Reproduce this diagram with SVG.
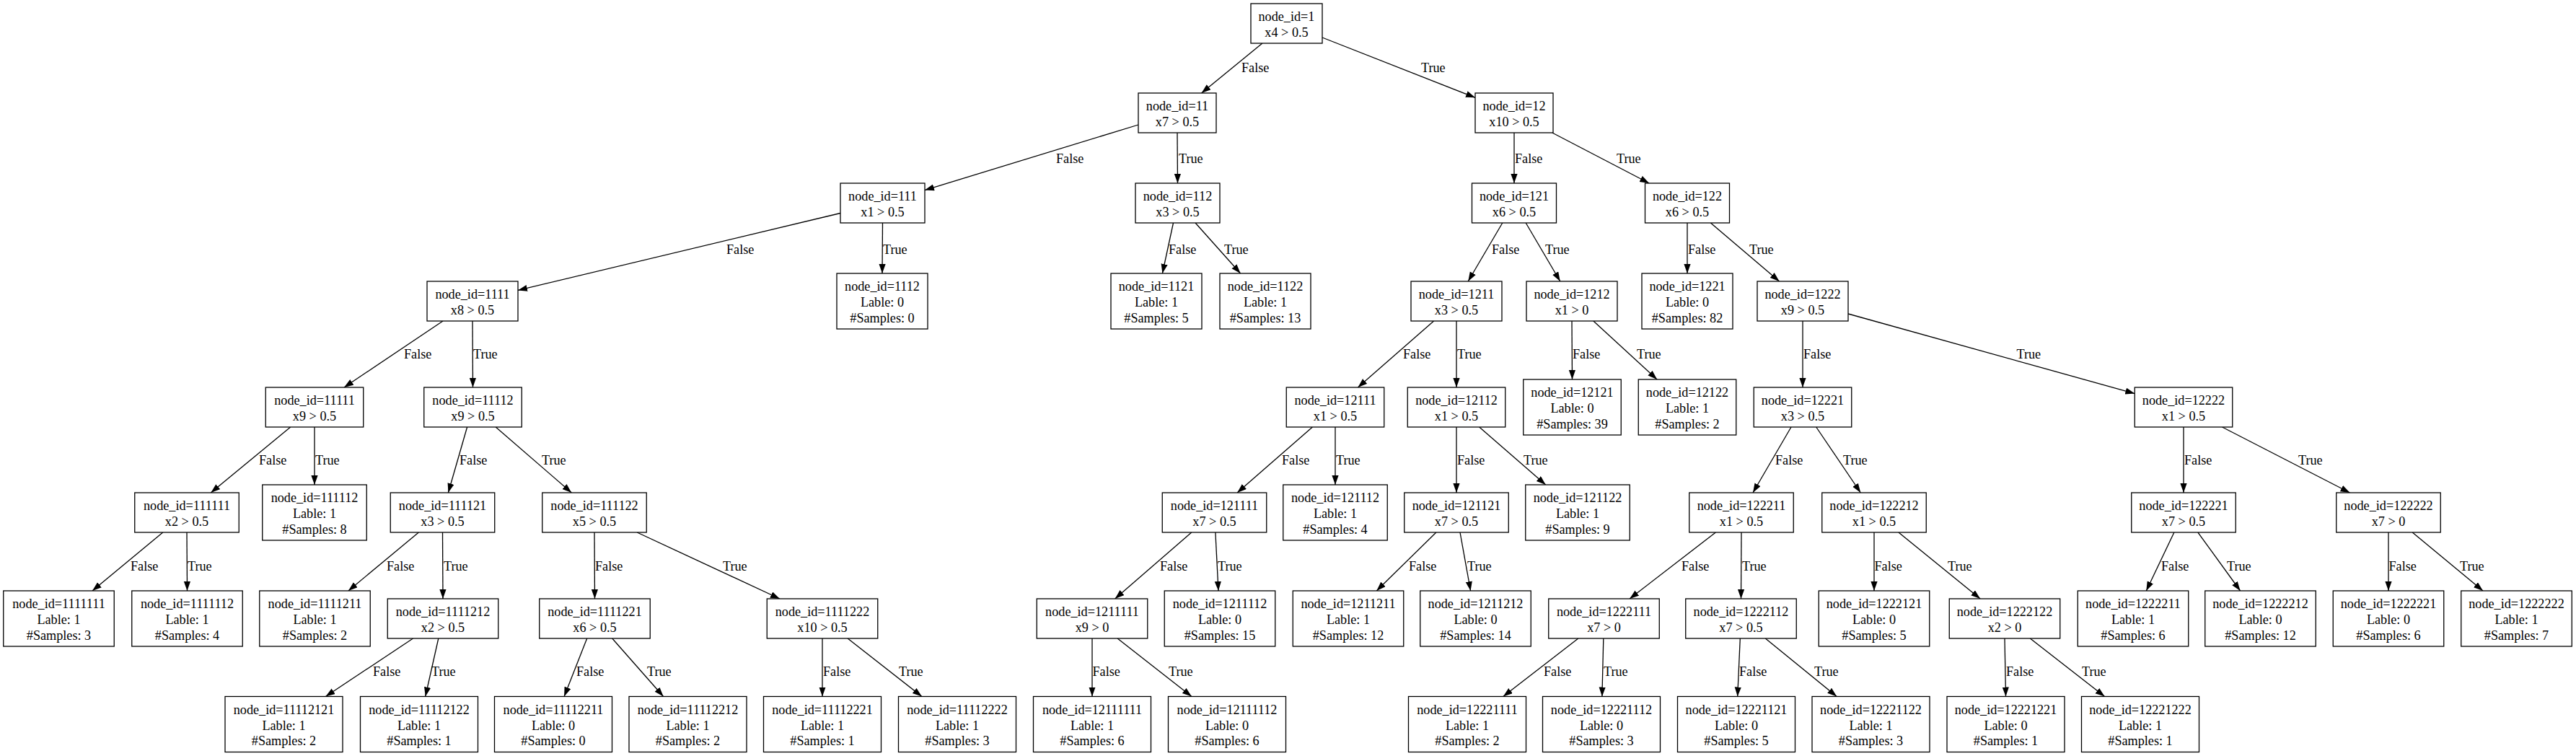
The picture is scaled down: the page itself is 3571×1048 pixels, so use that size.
<svg xmlns="http://www.w3.org/2000/svg" width="3571" height="1048" viewBox="0 0 3571 1048">
<defs>
<style>
text{font-family:"Liberation Serif","Times New Roman",serif;font-size:18.2px;fill:#000}
.n rect{fill:#fff;stroke:#000;stroke-width:1.3}
.n text{text-anchor:middle}
#edges line{stroke:#000;stroke-width:1.3;marker-end:url(#a)}
#edges text{text-anchor:start}
</style>
<marker id="a" markerUnits="userSpaceOnUse" markerWidth="14" markerHeight="10" refX="13" refY="4.6" orient="auto"><path d="M0,0 L13,4.6 L0,9.2z" fill="#000"/></marker>
</defs>
<rect width="3571" height="1048" fill="#fff"/>
<g id="edges">
<line x1="1749.9" y1="60" x2="1665.6" y2="129"/><text x="1721" y="100">False</text>
<line x1="1833" y1="52" x2="2045" y2="135.3"/><text x="1970" y="100">True</text>
<line x1="1578" y1="173" x2="1282" y2="263.6"/><text x="1464" y="226">False</text>
<line x1="1632" y1="184" x2="1632.5" y2="254"/><text x="1634" y="226">True</text>
<line x1="2099" y1="184" x2="2099" y2="254"/><text x="2100" y="226">False</text>
<line x1="2151.8" y1="184" x2="2286.2" y2="254"/><text x="2241" y="226">True</text>
<line x1="1165" y1="295.5" x2="718" y2="402.4"/><text x="1007" y="352">False</text>
<line x1="1223.5" y1="309" x2="1223" y2="379"/><text x="1224" y="352">True</text>
<line x1="1626.5" y1="309" x2="1611.4" y2="379"/><text x="1620" y="352">False</text>
<line x1="1657.1" y1="309" x2="1719.6" y2="379"/><text x="1697" y="352">True</text>
<line x1="2082.8" y1="309" x2="2035.2" y2="390"/><text x="2068" y="352">False</text>
<line x1="2115.2" y1="309" x2="2162.8" y2="390"/><text x="2142" y="352">True</text>
<line x1="2339" y1="309" x2="2339" y2="379"/><text x="2340" y="352">False</text>
<line x1="2371.4" y1="309" x2="2466.6" y2="390"/><text x="2425" y="352">True</text>
<line x1="614" y1="445" x2="477" y2="537"/><text x="560" y="497">False</text>
<line x1="655" y1="445" x2="655.5" y2="537"/><text x="656" y="497">True</text>
<line x1="1987.6" y1="445" x2="1882.4" y2="537"/><text x="1945" y="497">False</text>
<line x1="2019" y1="445" x2="2019" y2="537"/><text x="2020" y="497">True</text>
<line x1="2179" y1="445" x2="2179.5" y2="526"/><text x="2180" y="497">False</text>
<line x1="2208.9" y1="445" x2="2297.1" y2="526"/><text x="2269" y="497">True</text>
<line x1="2499" y1="445" x2="2499" y2="537"/><text x="2500" y="497">False</text>
<line x1="2562" y1="435" x2="2959.3" y2="545.6"/><text x="2795.5" y="497">True</text>
<line x1="402.7" y1="592" x2="292.3" y2="683"/><text x="359" y="643.5">False</text>
<line x1="436" y1="592" x2="436" y2="672"/><text x="437" y="643.5">True</text>
<line x1="647.6" y1="592" x2="621.4" y2="683"/><text x="637" y="643.5">False</text>
<line x1="687.2" y1="592" x2="792.3" y2="683"/><text x="751" y="643.5">True</text>
<line x1="1819.4" y1="592" x2="1715.1" y2="683"/><text x="1777" y="643.5">False</text>
<line x1="1851" y1="592" x2="1851" y2="672"/><text x="1852" y="643.5">True</text>
<line x1="2019" y1="592" x2="2019" y2="683"/><text x="2020" y="643.5">False</text>
<line x1="2050.7" y1="592" x2="2142.7" y2="672"/><text x="2112" y="643.5">True</text>
<line x1="2483" y1="592" x2="2430" y2="683"/><text x="2461" y="643.5">False</text>
<line x1="2517.7" y1="592" x2="2579.3" y2="683"/><text x="2555" y="643.5">True</text>
<line x1="3027" y1="592" x2="3027" y2="683"/><text x="3028" y="643.5">False</text>
<line x1="3080.5" y1="592" x2="3257.5" y2="683"/><text x="3186" y="643.5">True</text>
<line x1="225.8" y1="738" x2="128" y2="819"/><text x="181" y="791">False</text>
<line x1="259" y1="738" x2="259.5" y2="819"/><text x="260" y="791">True</text>
<line x1="580.4" y1="738" x2="482.9" y2="819"/><text x="536" y="791">False</text>
<line x1="613.5" y1="738" x2="614" y2="830"/><text x="615" y="791">True</text>
<line x1="824" y1="738" x2="824.5" y2="830"/><text x="825" y="791">False</text>
<line x1="883.1" y1="738" x2="1080.9" y2="830"/><text x="1002" y="791">True</text>
<line x1="1651.8" y1="738" x2="1545.7" y2="830"/><text x="1608" y="791">False</text>
<line x1="1684.9" y1="738" x2="1689" y2="819"/><text x="1688" y="791">True</text>
<line x1="1990.9" y1="738" x2="1908.3" y2="819"/><text x="1953" y="791">False</text>
<line x1="2024" y1="738" x2="2038.6" y2="819"/><text x="2034" y="791">True</text>
<line x1="2378.4" y1="738" x2="2259.1" y2="830"/><text x="2331" y="791">False</text>
<line x1="2414" y1="738" x2="2413.5" y2="830"/><text x="2415" y="791">True</text>
<line x1="2598" y1="738" x2="2598" y2="819"/><text x="2598.5" y="791">False</text>
<line x1="2631.9" y1="738" x2="2745.1" y2="830"/><text x="2700" y="791">True</text>
<line x1="3013.9" y1="738" x2="2975.3" y2="819"/><text x="2996" y="791">False</text>
<line x1="3046.9" y1="738" x2="3105.6" y2="819"/><text x="3087" y="791">True</text>
<line x1="3311" y1="738" x2="3311" y2="819"/><text x="3311.5" y="791">False</text>
<line x1="3344.2" y1="738" x2="3442" y2="819"/><text x="3410" y="791">True</text>
<line x1="572.6" y1="885" x2="451.4" y2="965.5"/><text x="517" y="937">False</text>
<line x1="607.8" y1="885" x2="589.7" y2="965.5"/><text x="598" y="937">True</text>
<line x1="813.7" y1="885" x2="782.1" y2="965.5"/><text x="799" y="937">False</text>
<line x1="848.7" y1="885" x2="919.6" y2="965.5"/><text x="897" y="937">True</text>
<line x1="1140" y1="885" x2="1140" y2="965.5"/><text x="1141" y="937">False</text>
<line x1="1175.1" y1="885" x2="1277.9" y2="965.5"/><text x="1246" y="937">True</text>
<line x1="1514" y1="885" x2="1514" y2="965.5"/><text x="1514.5" y="937">False</text>
<line x1="1549.1" y1="885" x2="1651.9" y2="965.5"/><text x="1620" y="937">True</text>
<line x1="2187.9" y1="885" x2="2083.8" y2="965.5"/><text x="2140" y="937">False</text>
<line x1="2222.8" y1="885" x2="2220.9" y2="965.5"/><text x="2223" y="937">True</text>
<line x1="2412.3" y1="885" x2="2408.7" y2="965.5"/><text x="2411" y="937">False</text>
<line x1="2447.3" y1="885" x2="2546.2" y2="965.5"/><text x="2515" y="937">True</text>
<line x1="2779" y1="885" x2="2780.5" y2="965.5"/><text x="2781" y="937">False</text>
<line x1="2814.3" y1="885" x2="2917.6" y2="965.5"/><text x="2886" y="937">True</text>
</g>
<g id="n1" class="n"><rect x="1734" y="5" width="99" height="55"/><text x="1783.5" y="29.1">node_id=1<tspan x="1783.5" dy="21.8">x4 &gt; 0.5</tspan></text></g>
<g id="n11" class="n"><rect x="1578" y="129" width="108" height="55"/><text x="1632" y="153.1">node_id=11<tspan x="1632" dy="21.8">x7 &gt; 0.5</tspan></text></g>
<g id="n12" class="n"><rect x="2045" y="129" width="108" height="55"/><text x="2099" y="153.1">node_id=12<tspan x="2099" dy="21.8">x10 &gt; 0.5</tspan></text></g>
<g id="n111" class="n"><rect x="1165" y="254" width="117" height="55"/><text x="1223.5" y="278.1">node_id=111<tspan x="1223.5" dy="21.8">x1 &gt; 0.5</tspan></text></g>
<g id="n112" class="n"><rect x="1574" y="254" width="117" height="55"/><text x="1632.5" y="278.1">node_id=112<tspan x="1632.5" dy="21.8">x3 &gt; 0.5</tspan></text></g>
<g id="n121" class="n"><rect x="2040.5" y="254" width="117" height="55"/><text x="2099" y="278.1">node_id=121<tspan x="2099" dy="21.8">x6 &gt; 0.5</tspan></text></g>
<g id="n122" class="n"><rect x="2280.5" y="254" width="117" height="55"/><text x="2339" y="278.1">node_id=122<tspan x="2339" dy="21.8">x6 &gt; 0.5</tspan></text></g>
<g id="n1111" class="n"><rect x="592" y="390" width="126" height="55"/><text x="655" y="414.1">node_id=1111<tspan x="655" dy="21.8">x8 &gt; 0.5</tspan></text></g>
<g id="n1112" class="n"><rect x="1160" y="379" width="126" height="77"/><text x="1223" y="403.2">node_id=1112<tspan x="1223" dy="21.8">Lable: 0</tspan><tspan x="1223" dy="21.8">#Samples: 0</tspan></text></g>
<g id="n1121" class="n"><rect x="1540" y="379" width="126" height="77"/><text x="1603" y="403.2">node_id=1121<tspan x="1603" dy="21.8">Lable: 1</tspan><tspan x="1603" dy="21.8">#Samples: 5</tspan></text></g>
<g id="n1122" class="n"><rect x="1691" y="379" width="126" height="77"/><text x="1754" y="403.2">node_id=1122<tspan x="1754" dy="21.8">Lable: 1</tspan><tspan x="1754" dy="21.8">#Samples: 13</tspan></text></g>
<g id="n1211" class="n"><rect x="1956" y="390" width="126" height="55"/><text x="2019" y="414.1">node_id=1211<tspan x="2019" dy="21.8">x3 &gt; 0.5</tspan></text></g>
<g id="n1212" class="n"><rect x="2116" y="390" width="126" height="55"/><text x="2179" y="414.1">node_id=1212<tspan x="2179" dy="21.8">x1 &gt; 0</tspan></text></g>
<g id="n1221" class="n"><rect x="2276" y="379" width="126" height="77"/><text x="2339" y="403.2">node_id=1221<tspan x="2339" dy="21.8">Lable: 0</tspan><tspan x="2339" dy="21.8">#Samples: 82</tspan></text></g>
<g id="n1222" class="n"><rect x="2436" y="390" width="126" height="55"/><text x="2499" y="414.1">node_id=1222<tspan x="2499" dy="21.8">x9 &gt; 0.5</tspan></text></g>
<g id="n11111" class="n"><rect x="368.25" y="537" width="135.5" height="55"/><text x="436" y="561.1">node_id=11111<tspan x="436" dy="21.8">x9 &gt; 0.5</tspan></text></g>
<g id="n11112" class="n"><rect x="587.75" y="537" width="135.5" height="55"/><text x="655.5" y="561.1">node_id=11112<tspan x="655.5" dy="21.8">x9 &gt; 0.5</tspan></text></g>
<g id="n12111" class="n"><rect x="1783.25" y="537" width="135.5" height="55"/><text x="1851" y="561.1">node_id=12111<tspan x="1851" dy="21.8">x1 &gt; 0.5</tspan></text></g>
<g id="n12112" class="n"><rect x="1951.25" y="537" width="135.5" height="55"/><text x="2019" y="561.1">node_id=12112<tspan x="2019" dy="21.8">x1 &gt; 0.5</tspan></text></g>
<g id="n12121" class="n"><rect x="2111.75" y="526" width="135.5" height="77"/><text x="2179.5" y="550.2">node_id=12121<tspan x="2179.5" dy="21.8">Lable: 0</tspan><tspan x="2179.5" dy="21.8">#Samples: 39</tspan></text></g>
<g id="n12122" class="n"><rect x="2271.25" y="526" width="135.5" height="77"/><text x="2339" y="550.2">node_id=12122<tspan x="2339" dy="21.8">Lable: 1</tspan><tspan x="2339" dy="21.8">#Samples: 2</tspan></text></g>
<g id="n12221" class="n"><rect x="2431.25" y="537" width="135.5" height="55"/><text x="2499" y="561.1">node_id=12221<tspan x="2499" dy="21.8">x3 &gt; 0.5</tspan></text></g>
<g id="n12222" class="n"><rect x="2959.25" y="537" width="135.5" height="55"/><text x="3027" y="561.1">node_id=12222<tspan x="3027" dy="21.8">x1 &gt; 0.5</tspan></text></g>
<g id="n111111" class="n"><rect x="186.75" y="683" width="144.5" height="55"/><text x="259" y="707.1">node_id=111111<tspan x="259" dy="21.8">x2 &gt; 0.5</tspan></text></g>
<g id="n111112" class="n"><rect x="363.75" y="672" width="144.5" height="77"/><text x="436" y="696.2">node_id=111112<tspan x="436" dy="21.8">Lable: 1</tspan><tspan x="436" dy="21.8">#Samples: 8</tspan></text></g>
<g id="n111121" class="n"><rect x="541.25" y="683" width="144.5" height="55"/><text x="613.5" y="707.1">node_id=111121<tspan x="613.5" dy="21.8">x3 &gt; 0.5</tspan></text></g>
<g id="n111122" class="n"><rect x="751.75" y="683" width="144.5" height="55"/><text x="824" y="707.1">node_id=111122<tspan x="824" dy="21.8">x5 &gt; 0.5</tspan></text></g>
<g id="n121111" class="n"><rect x="1611.25" y="683" width="144.5" height="55"/><text x="1683.5" y="707.1">node_id=121111<tspan x="1683.5" dy="21.8">x7 &gt; 0.5</tspan></text></g>
<g id="n121112" class="n"><rect x="1778.75" y="672" width="144.5" height="77"/><text x="1851" y="696.2">node_id=121112<tspan x="1851" dy="21.8">Lable: 1</tspan><tspan x="1851" dy="21.8">#Samples: 4</tspan></text></g>
<g id="n121121" class="n"><rect x="1946.75" y="683" width="144.5" height="55"/><text x="2019" y="707.1">node_id=121121<tspan x="2019" dy="21.8">x7 &gt; 0.5</tspan></text></g>
<g id="n121122" class="n"><rect x="2114.75" y="672" width="144.5" height="77"/><text x="2187" y="696.2">node_id=121122<tspan x="2187" dy="21.8">Lable: 1</tspan><tspan x="2187" dy="21.8">#Samples: 9</tspan></text></g>
<g id="n122211" class="n"><rect x="2341.75" y="683" width="144.5" height="55"/><text x="2414" y="707.1">node_id=122211<tspan x="2414" dy="21.8">x1 &gt; 0.5</tspan></text></g>
<g id="n122212" class="n"><rect x="2525.75" y="683" width="144.5" height="55"/><text x="2598" y="707.1">node_id=122212<tspan x="2598" dy="21.8">x1 &gt; 0.5</tspan></text></g>
<g id="n122221" class="n"><rect x="2954.75" y="683" width="144.5" height="55"/><text x="3027" y="707.1">node_id=122221<tspan x="3027" dy="21.8">x7 &gt; 0.5</tspan></text></g>
<g id="n122222" class="n"><rect x="3238.75" y="683" width="144.5" height="55"/><text x="3311" y="707.1">node_id=122222<tspan x="3311" dy="21.8">x7 &gt; 0</tspan></text></g>
<g id="n1111111" class="n"><rect x="4.75" y="819" width="153.5" height="77"/><text x="81.5" y="843.2">node_id=1111111<tspan x="81.5" dy="21.8">Lable: 1</tspan><tspan x="81.5" dy="21.8">#Samples: 3</tspan></text></g>
<g id="n1111112" class="n"><rect x="182.75" y="819" width="153.5" height="77"/><text x="259.5" y="843.2">node_id=1111112<tspan x="259.5" dy="21.8">Lable: 1</tspan><tspan x="259.5" dy="21.8">#Samples: 4</tspan></text></g>
<g id="n1111211" class="n"><rect x="359.75" y="819" width="153.5" height="77"/><text x="436.5" y="843.2">node_id=1111211<tspan x="436.5" dy="21.8">Lable: 1</tspan><tspan x="436.5" dy="21.8">#Samples: 2</tspan></text></g>
<g id="n1111212" class="n"><rect x="537.25" y="830" width="153.5" height="55"/><text x="614" y="854.1">node_id=1111212<tspan x="614" dy="21.8">x2 &gt; 0.5</tspan></text></g>
<g id="n1111221" class="n"><rect x="747.75" y="830" width="153.5" height="55"/><text x="824.5" y="854.1">node_id=1111221<tspan x="824.5" dy="21.8">x6 &gt; 0.5</tspan></text></g>
<g id="n1111222" class="n"><rect x="1063.25" y="830" width="153.5" height="55"/><text x="1140" y="854.1">node_id=1111222<tspan x="1140" dy="21.8">x10 &gt; 0.5</tspan></text></g>
<g id="n1211111" class="n"><rect x="1437.25" y="830" width="153.5" height="55"/><text x="1514" y="854.1">node_id=1211111<tspan x="1514" dy="21.8">x9 &gt; 0</tspan></text></g>
<g id="n1211112" class="n"><rect x="1614.25" y="819" width="153.5" height="77"/><text x="1691" y="843.2">node_id=1211112<tspan x="1691" dy="21.8">Lable: 0</tspan><tspan x="1691" dy="21.8">#Samples: 15</tspan></text></g>
<g id="n1211211" class="n"><rect x="1792.25" y="819" width="153.5" height="77"/><text x="1869" y="843.2">node_id=1211211<tspan x="1869" dy="21.8">Lable: 1</tspan><tspan x="1869" dy="21.8">#Samples: 12</tspan></text></g>
<g id="n1211212" class="n"><rect x="1968.75" y="819" width="153.5" height="77"/><text x="2045.5" y="843.2">node_id=1211212<tspan x="2045.5" dy="21.8">Lable: 0</tspan><tspan x="2045.5" dy="21.8">#Samples: 14</tspan></text></g>
<g id="n1222111" class="n"><rect x="2146.75" y="830" width="153.5" height="55"/><text x="2223.5" y="854.1">node_id=1222111<tspan x="2223.5" dy="21.8">x7 &gt; 0</tspan></text></g>
<g id="n1222112" class="n"><rect x="2336.75" y="830" width="153.5" height="55"/><text x="2413.5" y="854.1">node_id=1222112<tspan x="2413.5" dy="21.8">x7 &gt; 0.5</tspan></text></g>
<g id="n1222121" class="n"><rect x="2521.25" y="819" width="153.5" height="77"/><text x="2598" y="843.2">node_id=1222121<tspan x="2598" dy="21.8">Lable: 0</tspan><tspan x="2598" dy="21.8">#Samples: 5</tspan></text></g>
<g id="n1222122" class="n"><rect x="2702.25" y="830" width="153.5" height="55"/><text x="2779" y="854.1">node_id=1222122<tspan x="2779" dy="21.8">x2 &gt; 0</tspan></text></g>
<g id="n1222211" class="n"><rect x="2880.25" y="819" width="153.5" height="77"/><text x="2957" y="843.2">node_id=1222211<tspan x="2957" dy="21.8">Lable: 1</tspan><tspan x="2957" dy="21.8">#Samples: 6</tspan></text></g>
<g id="n1222212" class="n"><rect x="3056.75" y="819" width="153.5" height="77"/><text x="3133.5" y="843.2">node_id=1222212<tspan x="3133.5" dy="21.8">Lable: 0</tspan><tspan x="3133.5" dy="21.8">#Samples: 12</tspan></text></g>
<g id="n1222221" class="n"><rect x="3234.25" y="819" width="153.5" height="77"/><text x="3311" y="843.2">node_id=1222221<tspan x="3311" dy="21.8">Lable: 0</tspan><tspan x="3311" dy="21.8">#Samples: 6</tspan></text></g>
<g id="n1222222" class="n"><rect x="3411.75" y="819" width="153.5" height="77"/><text x="3488.5" y="843.2">node_id=1222222<tspan x="3488.5" dy="21.8">Lable: 1</tspan><tspan x="3488.5" dy="21.8">#Samples: 7</tspan></text></g>
<g id="n11112121" class="n"><rect x="312" y="965.5" width="163" height="77"/><text x="393.5" y="989.7">node_id=11112121<tspan x="393.5" dy="21.8">Lable: 1</tspan><tspan x="393.5" dy="21.8">#Samples: 2</tspan></text></g>
<g id="n11112122" class="n"><rect x="499.5" y="965.5" width="163" height="77"/><text x="581" y="989.7">node_id=11112122<tspan x="581" dy="21.8">Lable: 1</tspan><tspan x="581" dy="21.8">#Samples: 1</tspan></text></g>
<g id="n11112211" class="n"><rect x="685.5" y="965.5" width="163" height="77"/><text x="767" y="989.7">node_id=11112211<tspan x="767" dy="21.8">Lable: 0</tspan><tspan x="767" dy="21.8">#Samples: 0</tspan></text></g>
<g id="n11112212" class="n"><rect x="872" y="965.5" width="163" height="77"/><text x="953.5" y="989.7">node_id=11112212<tspan x="953.5" dy="21.8">Lable: 1</tspan><tspan x="953.5" dy="21.8">#Samples: 2</tspan></text></g>
<g id="n11112221" class="n"><rect x="1058.5" y="965.5" width="163" height="77"/><text x="1140" y="989.7">node_id=11112221<tspan x="1140" dy="21.8">Lable: 1</tspan><tspan x="1140" dy="21.8">#Samples: 1</tspan></text></g>
<g id="n11112222" class="n"><rect x="1245.5" y="965.5" width="163" height="77"/><text x="1327" y="989.7">node_id=11112222<tspan x="1327" dy="21.8">Lable: 1</tspan><tspan x="1327" dy="21.8">#Samples: 3</tspan></text></g>
<g id="n12111111" class="n"><rect x="1432.5" y="965.5" width="163" height="77"/><text x="1514" y="989.7">node_id=12111111<tspan x="1514" dy="21.8">Lable: 1</tspan><tspan x="1514" dy="21.8">#Samples: 6</tspan></text></g>
<g id="n12111112" class="n"><rect x="1619.5" y="965.5" width="163" height="77"/><text x="1701" y="989.7">node_id=12111112<tspan x="1701" dy="21.8">Lable: 0</tspan><tspan x="1701" dy="21.8">#Samples: 6</tspan></text></g>
<g id="n12221111" class="n"><rect x="1952.5" y="965.5" width="163" height="77"/><text x="2034" y="989.7">node_id=12221111<tspan x="2034" dy="21.8">Lable: 1</tspan><tspan x="2034" dy="21.8">#Samples: 2</tspan></text></g>
<g id="n12221112" class="n"><rect x="2138.5" y="965.5" width="163" height="77"/><text x="2220" y="989.7">node_id=12221112<tspan x="2220" dy="21.8">Lable: 0</tspan><tspan x="2220" dy="21.8">#Samples: 3</tspan></text></g>
<g id="n12221121" class="n"><rect x="2325.5" y="965.5" width="163" height="77"/><text x="2407" y="989.7">node_id=12221121<tspan x="2407" dy="21.8">Lable: 0</tspan><tspan x="2407" dy="21.8">#Samples: 5</tspan></text></g>
<g id="n12221122" class="n"><rect x="2512" y="965.5" width="163" height="77"/><text x="2593.5" y="989.7">node_id=12221122<tspan x="2593.5" dy="21.8">Lable: 1</tspan><tspan x="2593.5" dy="21.8">#Samples: 3</tspan></text></g>
<g id="n12221221" class="n"><rect x="2699" y="965.5" width="163" height="77"/><text x="2780.5" y="989.7">node_id=12221221<tspan x="2780.5" dy="21.8">Lable: 0</tspan><tspan x="2780.5" dy="21.8">#Samples: 1</tspan></text></g>
<g id="n12221222" class="n"><rect x="2885.5" y="965.5" width="163" height="77"/><text x="2967" y="989.7">node_id=12221222<tspan x="2967" dy="21.8">Lable: 1</tspan><tspan x="2967" dy="21.8">#Samples: 1</tspan></text></g>
</svg>
